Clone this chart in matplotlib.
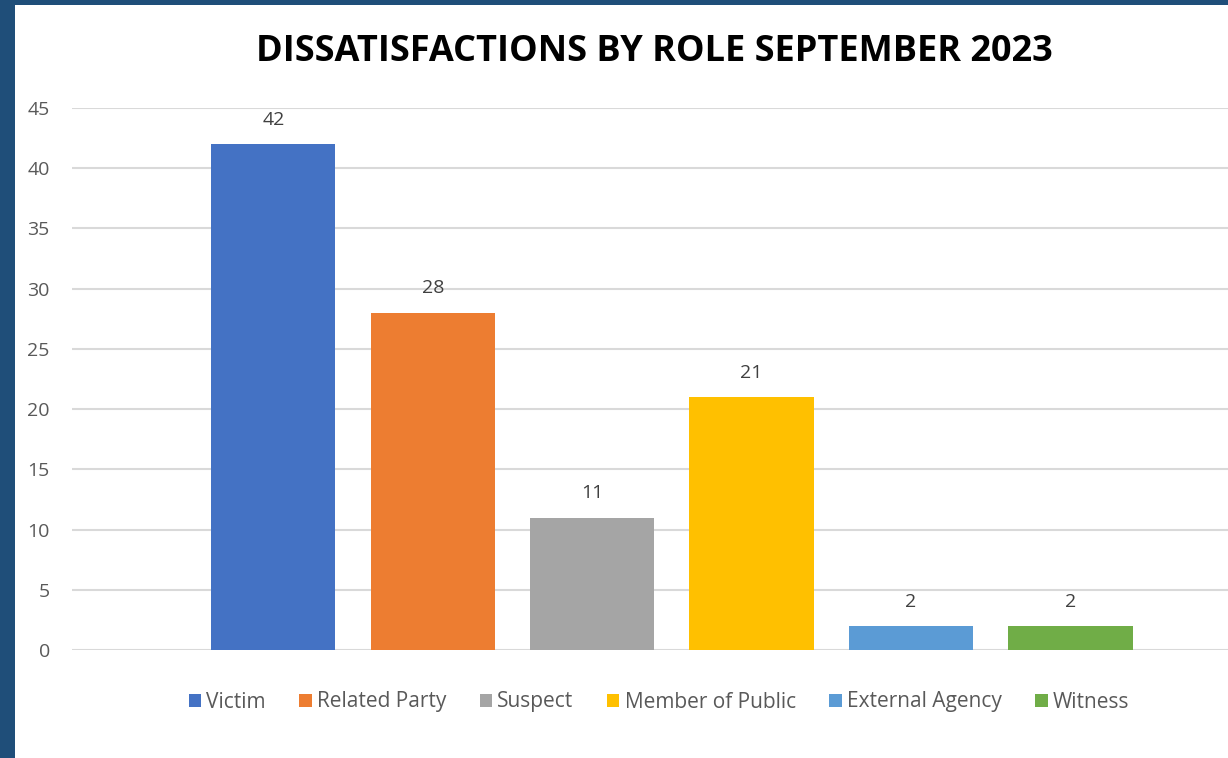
import matplotlib.pyplot as plt
from matplotlib.patches import Rectangle

# data
roles = ["Victim", "Related Party", "Suspect", "Member of Public", "External Agency", "Witness"]
counts = [42, 28, 11, 21, 2, 2]
colors = ["#4472C4", "#ED7D31", "#A5A5A5", "#FFC000", "#5B9BD5", "#70AD47"]
yticks = [0, 5, 10, 15, 20, 25, 30, 35, 40, 45]

plt.rcParams['font.family'] = ['Open Sans', 'DejaVu Sans']

W, H = 1228, 758
fig = plt.figure(figsize=(W / 100, H / 100), dpi=100)
fig.patch.set_facecolor("#1F4E79")
# white chart area inside the dark frame
fig.patches.append(Rectangle((15 / W, 0), 1 - 15 / W, (H - 5) / H,
                             transform=fig.transFigure, facecolor="white",
                             edgecolor="none", zorder=-1))

ax = fig.add_axes([72 / W, (H - 650) / H, (W - 72) / W, (650 - 108) / H])
ax.set_facecolor("none")

xs = list(range(len(roles)))
bars = ax.bar(xs, counts, width=0.78, color=colors, label=roles, zorder=3)
for b, v in zip(bars, counts):
    ax.annotate(str(v), (b.get_x() + b.get_width() / 2, v), xytext=(0, 11),
                textcoords="offset points", ha="center", va="bottom",
                fontsize=14, color="#404040")

ax.set_xlim(-1.263, 5.989)
ax.set_ylim(0, 45)
ax.set_yticks(yticks)
ax.set_xticks([])
ax.grid(axis="y", color="#D9D9D9", linewidth=1.5, zorder=0)
ax.set_axisbelow(True)
for s in ax.spines.values():
    s.set_visible(False)
ax.tick_params(axis="y", length=0, pad=16, labelsize=14, labelcolor="#595959")

fig.text(654 / W, 1 - 52 / H, "DISSATISFACTIONS BY ROLE SEPTEMBER 2023",
         ha="center", va="center", fontsize=26, fontweight="bold", color="black")

fig.legend(handles=bars, labels=roles, loc="center", bbox_to_anchor=(659 / W, 1 - 702 / H),
           ncol=6, frameon=False, fontsize=15, labelcolor="#595959",
           handlelength=0.6, handleheight=0.6, handletextpad=0.25, columnspacing=1.6)

fig.savefig("out.png", dpi=100, facecolor=fig.get_facecolor())
